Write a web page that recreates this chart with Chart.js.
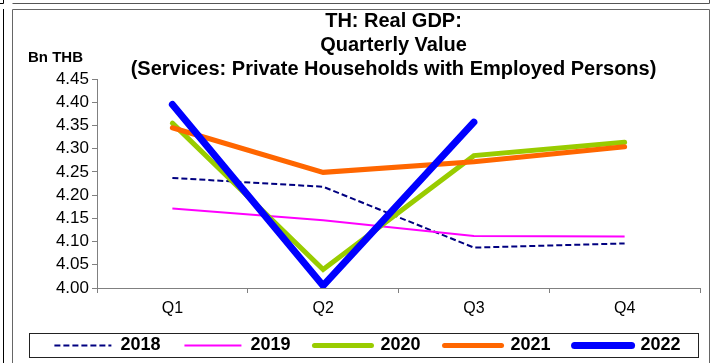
<!DOCTYPE html>
<html>
<head>
<meta charset="utf-8">
<script src="https://cdn.jsdelivr.net/npm/chart.js@4/dist/chart.umd.min.js"></script>
<style>
html,body{margin:0;padding:0;background:#fff;}
#wrap{position:relative;width:712px;height:363px;overflow:hidden;}
</style>
</head>
<body>
<div id="wrap"><canvas id="c" width="712" height="363"></canvas></div>
<script>
// ---- data ----
const quarters = ['Q1', 'Q2', 'Q3', 'Q4'];
const seriesNames = ['2018', '2019', '2020', '2021', '2022'];
const v2018 = [4.237, 4.218, 4.087, 4.096];
const v2019 = [4.171, 4.146, 4.112, 4.111];
const v2020 = [4.355, 4.040, 4.285, 4.314];
const v2021 = [4.345, 4.249, 4.272, 4.304];
const v2022 = [4.395, 4.005, 4.357, null];
const yMin = 4.00, yMax = 4.45, yStep = 0.05;
const titleLines = ['TH: Real GDP:', 'Quarterly Value', '(Services: Private Households with Employed Persons)'];
const unitLabel = 'Bn THB';

const FONT = "'Liberation Sans', Arial, sans-serif";
const LEGEND_FS = 18;
const PAD_BOTTOM = -14;

const framePlugin = {
  id: 'frame',
  beforeDraw(chart) {
    const ctx = chart.ctx;
    ctx.save();
    ctx.fillStyle = '#fff';
    ctx.fillRect(0, 0, chart.width, chart.height);
    ctx.lineWidth = 1;
    ctx.strokeStyle = '#000';
    ctx.beginPath();
    ctx.moveTo(3.5, 9); ctx.lineTo(3.5, 363);
    ctx.moveTo(0, 3.5); ctx.lineTo(3.5, 3.5); ctx.lineTo(3.5, 0);
    ctx.stroke();
    ctx.strokeStyle = '#555';
    ctx.beginPath();
    ctx.moveTo(12.5, 3.5); ctx.lineTo(709.5, 3.5); ctx.lineTo(709.5, 0);
    ctx.stroke();
    ctx.strokeStyle = '#666';
    ctx.beginPath();
    ctx.moveTo(12.5, 363); ctx.lineTo(12.5, 9.5); ctx.lineTo(709.5, 9.5); ctx.lineTo(709.5, 363);
    ctx.stroke();
    ctx.restore();
  },
  afterLayout(chart) {
    const t = chart.titleBlock;
    if (t) { t.left += 37; t.right += 37; t.top += 2; t.bottom += 2; }
    const lg = chart.legend;
    if (lg) {
      lg.left += 11; lg.right += 11;
      const pad = lg.options.labels.padding;
      const h = lg.height;
      lg.top = 345.5 - pad - LEGEND_FS / 2;
      lg.bottom = lg.top + h;
    }
  },
  afterDraw(chart) {
    const ctx = chart.ctx;
    ctx.save();
    ctx.fillStyle = '#000';
    ctx.font = 'bold 15px ' + FONT;
    ctx.textBaseline = 'middle';
    ctx.textAlign = 'left';
    ctx.fillText(unitLabel, 28, 58);
    ctx.strokeStyle = '#222';
    ctx.lineWidth = 1;
    ctx.strokeRect(29.5, 333.5, 669, 24);
    ctx.restore();
  }
};

const mk = (label, data, color, width, dash, order) => ({
  label, data,
  borderColor: color, backgroundColor: color,
  borderWidth: width, borderDash: dash,
  pointRadius: 0, pointHoverRadius: 0,
  tension: 0, fill: false, spanGaps: false,
  borderCapStyle: width >= 5 ? 'round' : 'butt',
  borderJoinStyle: 'miter',
  order
});

new Chart(document.getElementById('c'), {
  type: 'line',
  data: {
    labels: quarters,
    datasets: [
      mk(seriesNames[0], v2018, '#000080', 2, [6, 3], 5),
      mk(seriesNames[1], v2019, '#FF00FF', 2, [], 4),
      mk(seriesNames[2], v2020, '#99CC00', 5, [], 3),
      mk(seriesNames[3], v2021, '#FF6600', 5, [], 2),
      mk(seriesNames[4], v2022, '#0000FF', 7, [], 1)
    ]
  },
  options: {
    responsive: false,
    animation: false,
    devicePixelRatio: 1,
    layout: { padding: { left: 13, right: 12, top: 0, bottom: PAD_BOTTOM } },
    plugins: {
      title: {
        display: true,
        text: titleLines,
        color: '#000',
        font: { family: FONT, size: 20, weight: 'bold', lineHeight: 1.2 },
        padding: { top: 7, bottom: 0 }
      },
      legend: {
        display: true,
        position: 'bottom',
        labels: {
          usePointStyle: true,
          pointStyle: 'line',
          pointStyleWidth: 57,
          color: '#000',
          font: { family: FONT, size: LEGEND_FS, weight: 'bold' },
          padding: 24,
          sort: (a, b) => a.datasetIndex - b.datasetIndex,
          generateLabels(chart) {
            const items = Chart.defaults.plugins.legend.labels.generateLabels(chart);
            return items.map(it => {
              const ds = chart.data.datasets[it.datasetIndex];
              it.lineDash = ds.borderDash || [];
              it.lineWidth = ds.borderWidth;
              it.strokeStyle = ds.borderColor;
              it.fillStyle = ds.borderColor;
              it.lineCap = ds.borderCapStyle;
              it.pointStyle = 'line';
              return it;
            });
          }
        }
      },
      tooltip: { enabled: false }
    },
    scales: {
      x: {
        type: 'category',
        offset: true,
        grid: { display: true, drawOnChartArea: false, offset: true, tickLength: 5, color: '#808080' },
        border: { color: '#808080', width: 1 },
        ticks: { color: '#000', font: { family: FONT, size: 16 }, padding: 6, maxRotation: 0 },
        afterFit(scale) {
          const lg = scale.chart.legend;
          scale.height = lg ? (363 - PAD_BOTTOM - lg.height - 288) : 34;
        }
      },
      y: {
        min: yMin, max: yMax,
        grid: { display: true, drawOnChartArea: false, tickLength: 5, color: '#808080' },
        border: { color: '#808080', width: 1 },
        ticks: {
          stepSize: yStep,
          autoSkip: false,
          color: '#000',
          font: { family: FONT, size: 17 },
          padding: 3,
          callback: v => Number(v).toFixed(2)
        },
        afterFit(scale) { scale.width = 97 - 13; }
      }
    }
  },
  plugins: [framePlugin]
});
</script>
</body>
</html>
